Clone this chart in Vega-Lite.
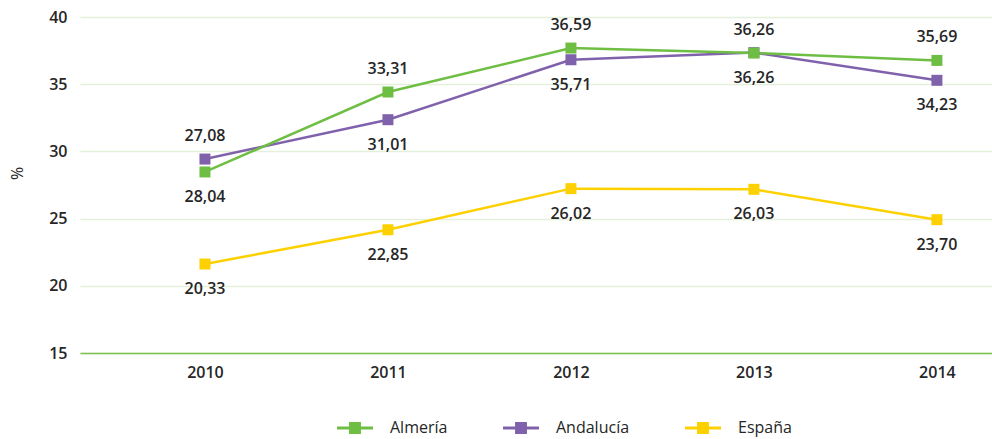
{
  "$schema": "https://vega.github.io/schema/vega-lite/v6.json",
  "width": 912,
  "height": 336,
  "autosize": "none",
  "padding": {"left": 80, "top": 17, "right": 0, "bottom": 86},
  "background": "white",
  "config": {"view": {"stroke": null}, "font": "Open Sans"},
  "data": {"values": [
    {"year": "2010", "region": "España", "value": 21.62, "label": "20,33", "lp": "b"},
    {"year": "2011", "region": "España", "value": 24.17, "label": "22,85", "lp": "b"},
    {"year": "2012", "region": "España", "value": 27.23, "label": "26,02", "lp": "b"},
    {"year": "2013", "region": "España", "value": 27.18, "label": "26,03", "lp": "b"},
    {"year": "2014", "region": "España", "value": 24.92, "label": "23,70", "lp": "b"},
    {"year": "2010", "region": "Andalucía", "value": 29.43, "label": "27,08", "lp": "a"},
    {"year": "2011", "region": "Andalucía", "value": 32.36, "label": "31,01", "lp": "b"},
    {"year": "2012", "region": "Andalucía", "value": 36.82, "label": "35,71", "lp": "b"},
    {"year": "2013", "region": "Andalucía", "value": 37.35, "label": "36,26", "lp": "b"},
    {"year": "2014", "region": "Andalucía", "value": 35.29, "label": "34,23", "lp": "b"},
    {"year": "2010", "region": "Almería", "value": 28.47, "label": "28,04", "lp": "b"},
    {"year": "2011", "region": "Almería", "value": 34.42, "label": "33,31", "lp": "a"},
    {"year": "2012", "region": "Almería", "value": 37.69, "label": "36,59", "lp": "a"},
    {"year": "2013", "region": "Almería", "value": 37.32, "label": "36,26", "lp": "a"},
    {"year": "2014", "region": "Almería", "value": 36.77, "label": "35,69", "lp": "a"}
  ]},
  "encoding": {
    "x": {
      "field": "year", "type": "ordinal", "sort": null,
      "scale": {"type": "point", "padding": 0.492, "align": 0.694},
      "axis": {"title": null, "labelAngle": 0, "domainColor": "#7cc14e", "domainWidth": 1.5, "ticks": false, "tickSize": 0, "grid": false, "labelFontSize": 16, "labelFontWeight": 600, "labelColor": "#262626", "labelPadding": 11}
    },
    "y": {
      "field": "value", "type": "quantitative",
      "scale": {"domain": [15, 40], "nice": false, "zero": false},
      "axis": {"title": "%", "titleFontSize": 16, "titleFontWeight": "normal", "titleColor": "#262626", "titleAngle": -90, "titleX": -55, "titleY": 156, "values": [15, 20, 25, 30, 35, 40], "domain": false, "ticks": false, "tickSize": 0, "gridColor": "#e4f0da", "gridWidth": 1.5, "labelFontSize": 16, "labelFontWeight": 600, "labelColor": "#262626", "labelPadding": 13}
    },
    "color": {"field": "region", "type": "nominal", "scale": {"domain": ["Almería", "Andalucía", "España"], "range": ["#6fbe44", "#8062ac", "#fdd000"]},
      "legend": {"orient": "none", "legendX": 257, "legendY": 393, "direction": "horizontal", "title": null, "symbolType": "M-1,-0.09H1V0.09H-1Z M-0.33,-0.33H0.33V0.33H-0.33Z", "symbolSize": 1296, "symbolStrokeWidth": 0, "symbolOpacity": 1, "labelFontSize": 16, "labelColor": "#262626", "labelOffset": 17, "columnPadding": 55}}
  },
  "layer": [
    {
      "mark": {"type": "line", "strokeWidth": 2.5}
    },
    {
      "mark": {"type": "point", "shape": "square", "filled": true, "size": 121, "opacity": 1}
    },
    {
      "transform": [{"filter": "datum.lp === 'a'"}],
      "mark": {"type": "text", "dy": -23, "fontSize": 16, "fontWeight": 600, "fill": "#262626"},
      "encoding": {"text": {"field": "label"}, "color": {"value": "#262626"}}
    },
    {
      "transform": [{"filter": "datum.lp === 'b'"}],
      "mark": {"type": "text", "dy": 25, "fontSize": 16, "fontWeight": 600, "fill": "#262626"},
      "encoding": {"text": {"field": "label"}, "color": {"value": "#262626"}}
    }
  ]
}
